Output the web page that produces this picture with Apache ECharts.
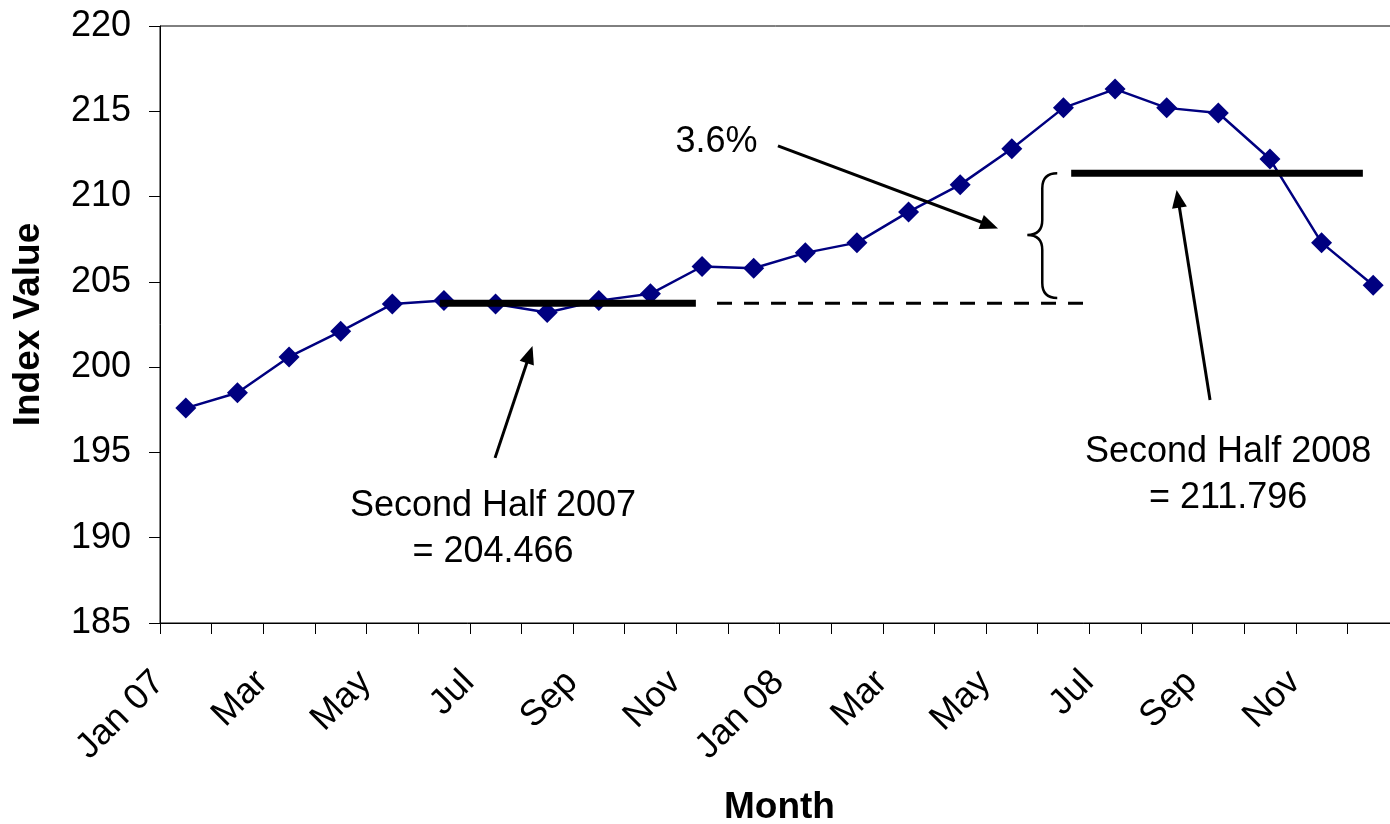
<!DOCTYPE html>
<html>
<head>
<meta charset="utf-8">
<script src="https://cdn.jsdelivr.net/npm/echarts@6/dist/echarts.min.js"></script>
<style>
html,body{margin:0;padding:0;background:#fff;}
#chart{width:1390px;height:824px;}
</style>
</head>
<body>
<div id="chart"></div>
<script>
// ---- Data ----
const months = ['Jan 07','Feb','Mar','Apr','May','Jun','Jul','Aug','Sep','Oct','Nov','Dec',
                'Jan 08','Feb','Mar','Apr','May','Jun','Jul','Aug','Sep','Oct','Nov','Dec'];
const indexValues = [197.6, 198.5, 200.6, 202.1, 203.7, 203.9, 203.7, 203.2, 203.9, 204.3, 205.9, 205.8,
                     206.7, 207.3, 209.1, 210.7, 212.8, 215.2, 216.3, 215.2, 214.9, 212.2, 207.3, 204.8];
const yMin = 185, yMax = 220, yStep = 5;

// Annotation geometry in data units (x = month index, y = index value)
const avg2007Bar = [[4.92, 203.75], [9.88, 203.75]];
const avg2007Dashed = [[10.29, 203.75], [17.4, 203.75]];
const avg2008Bar = [[17.15, 211.37], [22.8, 211.37]];
const arrowPct = [[11.47, 212.97], [15.57, 208.32]];
const arrow2007 = [[5.99, 194.68], [6.66, 200.74]];
const arrow2008 = [[19.84, 198.08], [19.22, 209.87]];
// brace: [leftTipX, stemX, rightX, topY, midY, bottomY]
const brace = [16.30, 16.59, 16.88, 211.37, 207.75, 204.06];
const noteTexts = ['3.6%', 'Second Half 2007\n= 204.466', 'Second Half 2008\n= 211.796'];
const notePos = [[10.28, 213.2], [5.95, 190.49], [20.19, 193.68]];

const FONT = "'Liberation Sans', Arial, Helvetica, sans-serif";
const chart = echarts.init(document.getElementById('chart'));

function arrowLine(pts) {
  return {
    type: 'line', xAxisIndex: 1, yAxisIndex: 0, data: [], silent: true, z: 6,
    markLine: {
      silent: true, animation: false,
      symbol: ['none', 'triangle'], symbolSize: [15, 18],
      label: {show: false},
      lineStyle: {color: '#000', width: 3, type: 'solid'},
      data: [[{coord: pts[0]}, {coord: pts[1]}]]
    }
  };
}

const option = {
  animation: false,
  backgroundColor: '#fff',
  textStyle: {fontFamily: FONT, color: '#000'},
  grid: {left: 160, top: 26, right: -9, bottom: 201, containLabel: false, outerBoundsMode: 'none',
         show: true, borderColor: '#000', borderWidth: 1, backgroundColor: 'transparent'},
  xAxis: [{
    type: 'category', data: months, boundaryGap: true,
    name: 'Month', nameLocation: 'middle', nameGap: 166,
    nameTextStyle: {fontFamily: FONT, fontSize: 37, fontWeight: 'bold', color: '#000', verticalAlign: 'top'},
    axisLine: {lineStyle: {color: '#000', width: 1}},
    axisTick: {show: true, interval: 0, length: 11, lineStyle: {color: '#000'}},
    axisLabel: {interval: 1, rotate: 45, margin: 27, padding: [0, 38, 0, 0], fontFamily: FONT, fontSize: 36, color: '#000'},
    splitLine: {show: false}
  }, {
    type: 'value', min: -0.5, max: 23.5, show: false
  }],
  yAxis: [{
    type: 'value', min: yMin, max: yMax, interval: yStep,
    name: 'Index Value', nameLocation: 'middle', nameGap: 113, nameRotate: 90,
    nameTextStyle: {fontFamily: FONT, fontSize: 37, fontWeight: 'bold', color: '#000'},
    axisLine: {show: true, onZero: false, lineStyle: {color: '#000', width: 1}},
    axisTick: {show: true, length: 11, lineStyle: {color: '#000'}},
    axisLabel: {margin: 29, fontFamily: FONT, fontSize: 36, color: '#000'},
    splitLine: {show: false}
  }],
  series: [
    {
      type: 'line', xAxisIndex: 0, data: indexValues, z: 3,
      symbol: 'diamond', symbolSize: 21,
      lineStyle: {color: '#000080', width: 2.5},
      itemStyle: {color: '#000080'}
    },
    {type: 'line', xAxisIndex: 1, data: avg2007Bar, symbol: 'none', z: 5, lineStyle: {color: '#000', width: 7}},
    {type: 'line', xAxisIndex: 1, data: avg2008Bar, symbol: 'none', z: 5, lineStyle: {color: '#000', width: 7}},
    {type: 'line', xAxisIndex: 1, data: avg2007Dashed, symbol: 'none', z: 5, lineStyle: {color: '#000', width: 3, type: [15, 12]}},
    arrowLine(arrowPct),
    arrowLine(arrow2007),
    arrowLine(arrow2008),
    {
      type: 'custom', xAxisIndex: 1, yAxisIndex: 0, z: 6, silent: true,
      data: [brace],
      renderItem: function (params, api) {
        const lx = api.value(0), sx = api.value(1), rx = api.value(2);
        const ty = api.value(3), my = api.value(4), by = api.value(5);
        const pTop = api.coord([rx, ty]);
        const pStemTop = api.coord([sx, ty]);
        const pMidL = api.coord([lx, my]);
        const pStemMid = api.coord([sx, my]);
        const pBot = api.coord([rx, by]);
        const r = Math.abs(pTop[0] - pStemTop[0]);
        const S = pStemTop[0];
        const d = [
          'M', pTop[0], pTop[1],
          'Q', S, pTop[1], S, pTop[1] + r,
          'L', S, pStemMid[1] - r,
          'Q', S, pStemMid[1], pMidL[0], pStemMid[1],
          'Q', S, pStemMid[1], S, pStemMid[1] + r,
          'L', S, pBot[1] - r,
          'Q', S, pBot[1], pBot[0], pBot[1]
        ].join(' ');
        return {
          type: 'path',
          shape: {pathData: d},
          style: {fill: 'none', stroke: '#000', lineWidth: 2.5}
        };
      }
    },
    {
      type: 'custom', xAxisIndex: 1, yAxisIndex: 0, z: 7, silent: true,
      data: notePos.map(function (p, i) { return [p[0], p[1], i]; }),
      renderItem: function (params, api) {
        const pt = api.coord([api.value(0), api.value(1)]);
        const txt = noteTexts[api.value(2)];
        return {
          type: 'text', x: pt[0], y: pt[1],
          style: {text: txt, fill: '#000', font: '36px ' + FONT, align: 'center', verticalAlign: 'middle', lineHeight: 46}
        };
      }
    }
  ]
};
chart.setOption(option);
</script>
</body>
</html>
